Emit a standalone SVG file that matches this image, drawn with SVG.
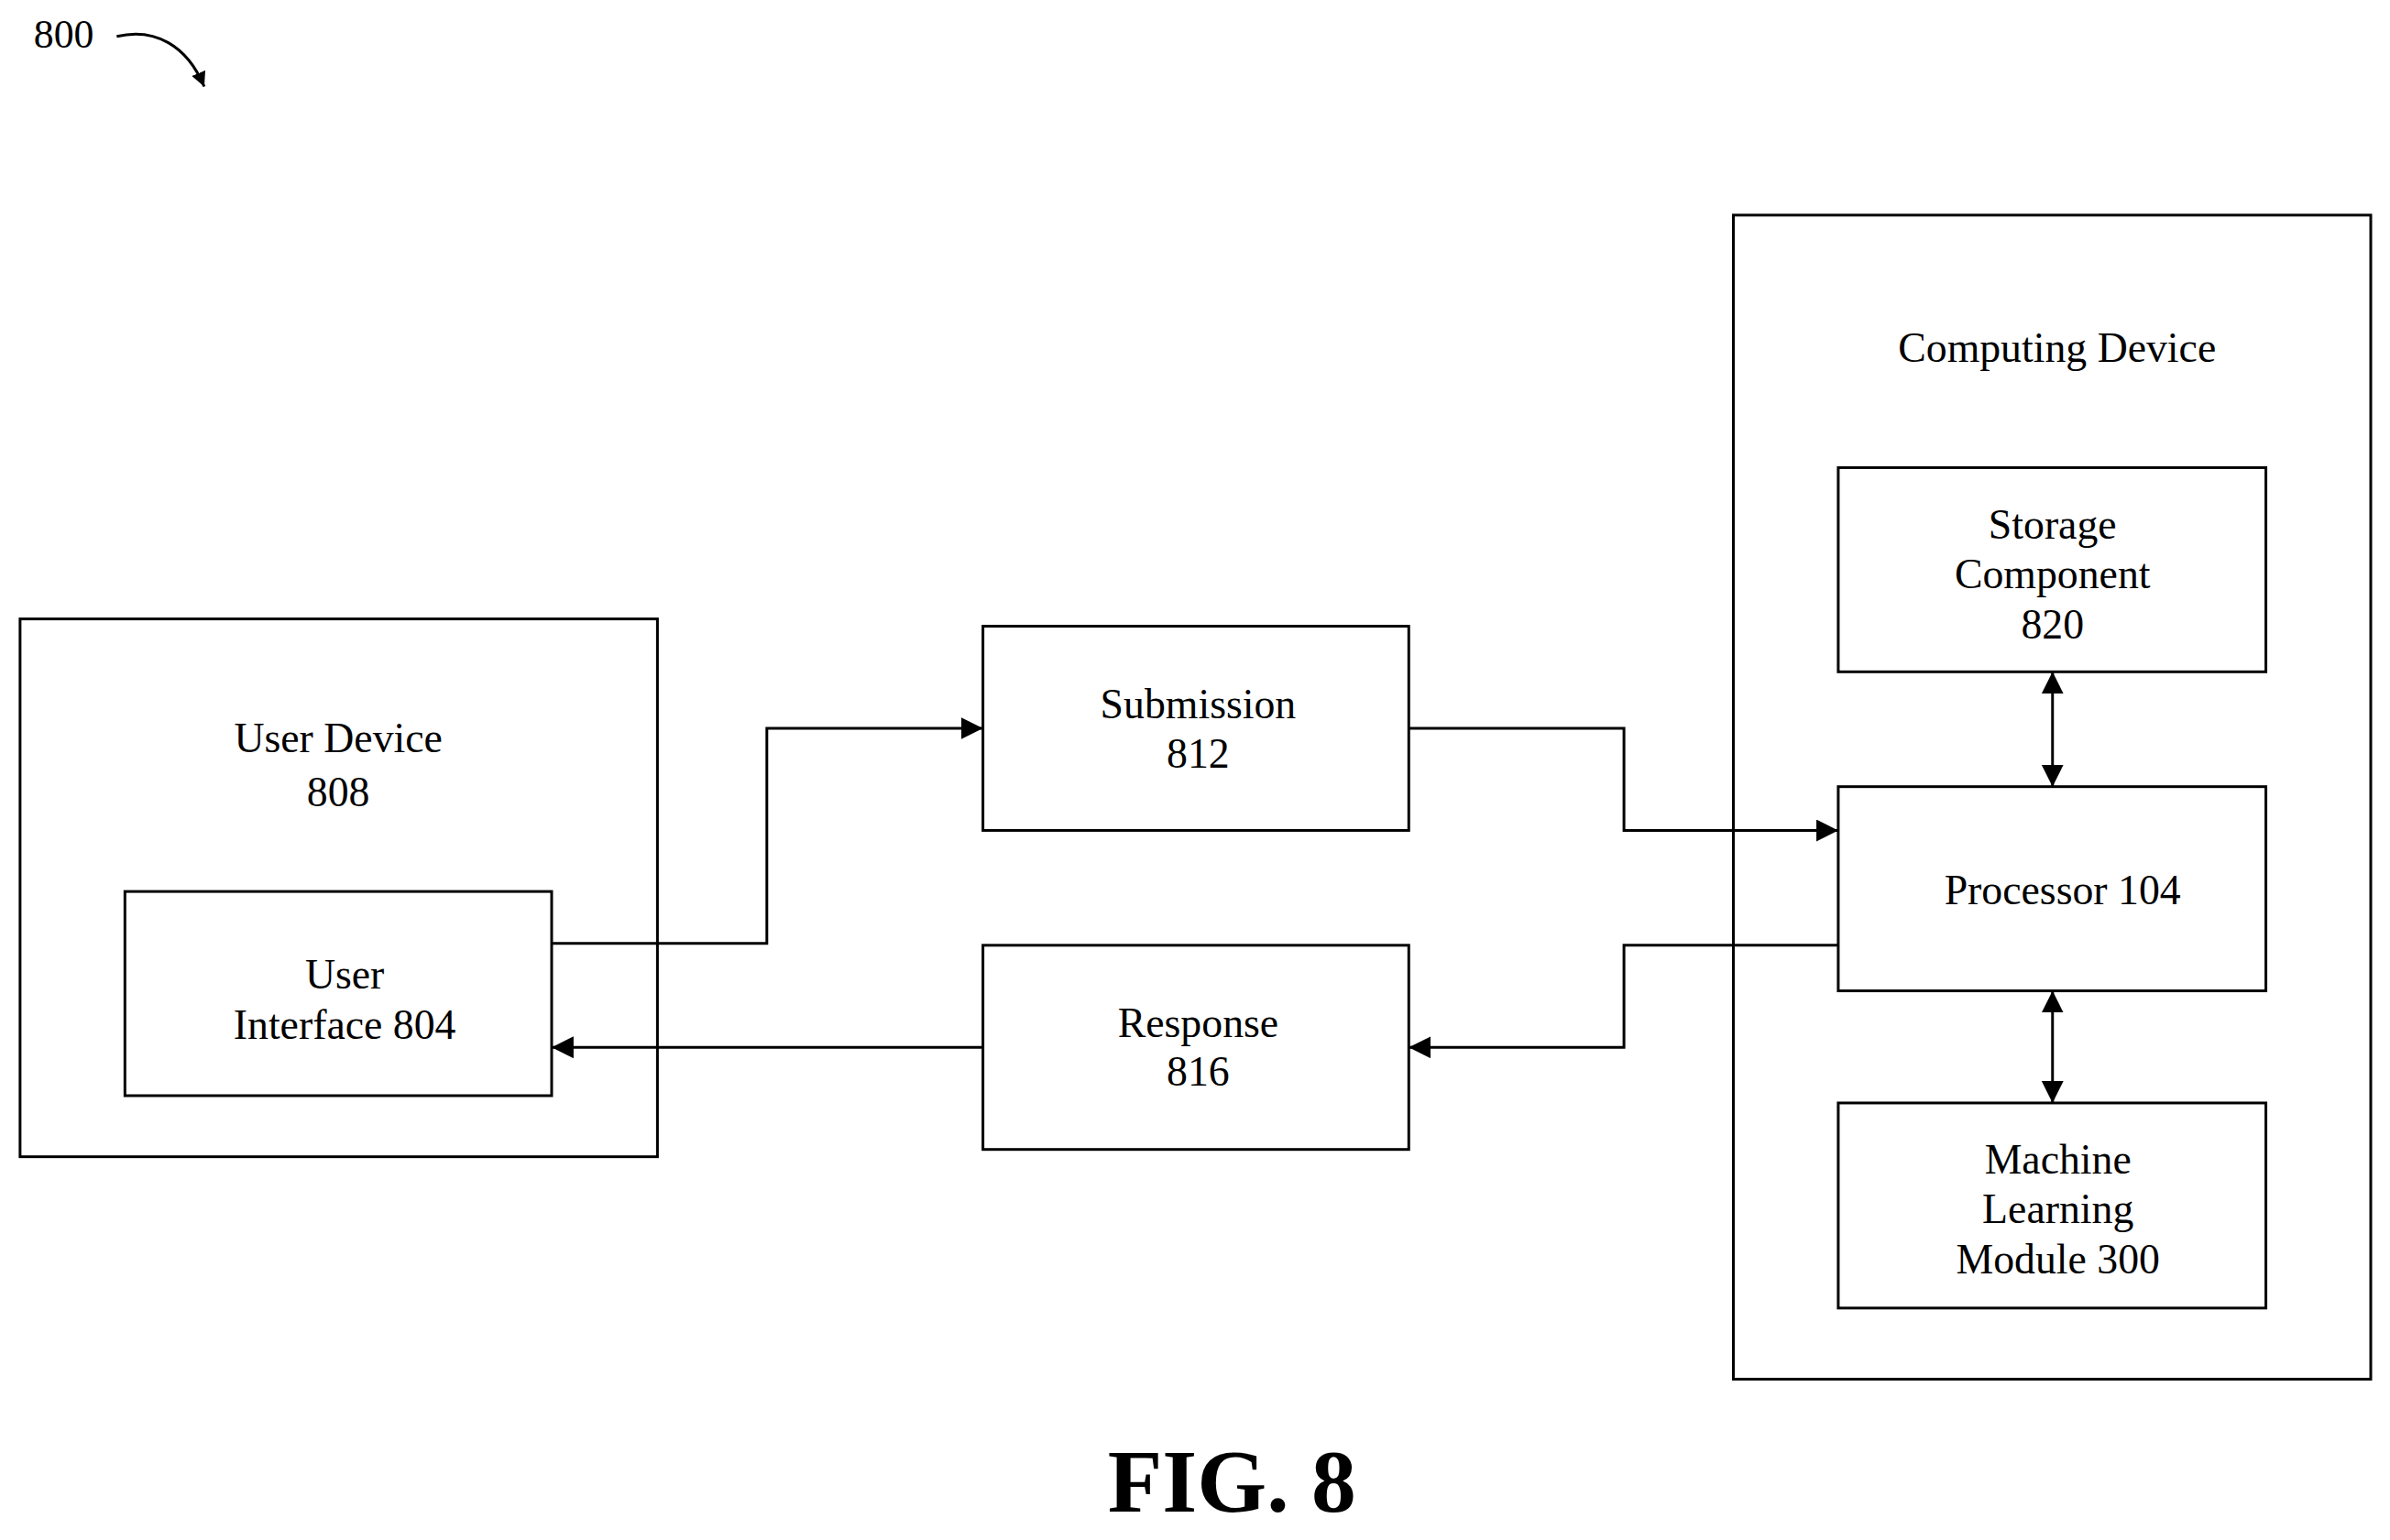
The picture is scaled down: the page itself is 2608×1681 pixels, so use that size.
<svg xmlns="http://www.w3.org/2000/svg" width="2608" height="1681" viewBox="0 0 2608 1681">
<style>
.b{fill:none;stroke:#000;stroke-width:3}
.t{font-family:"Liberation Serif",serif;font-size:46px;text-anchor:middle;fill:#000}
.c{fill:none;stroke:#000;stroke-width:3}
</style>
<defs>
<marker id="a" markerUnits="userSpaceOnUse" markerWidth="26" markerHeight="26" refX="24" refY="12" orient="auto-start-reverse"><path d="M0,0 L24,12 L0,24 Z" fill="#000"/></marker>
<marker id="s" markerUnits="userSpaceOnUse" markerWidth="20" markerHeight="20" refX="16" refY="8" orient="auto"><path d="M0,0 L16,8 L0,16 Z" fill="#000"/></marker>
</defs>
<rect width="2608" height="1681" fill="#fff"/>
<g transform="scale(0.995)">
<text x="70" y="52" class="t" style="font-size:44px">800</text>
<path d="M128,40 C170,30 205,50 224,95" class="c" stroke-width="2" marker-end="url(#s)"/>
<g id="user-device"><rect x="22" y="679" width="699" height="590" class="b"/><text class="t" x="371" y="825">User Device</text><text class="t" x="371" y="884">808</text></g>
<g id="user-interface"><rect x="137" y="978" width="468" height="224" class="b"/><text class="t" x="378" y="1084">User</text><text class="t" x="378" y="1140">Interface 804</text></g>
<g id="submission"><rect x="1078" y="687" width="467" height="224" class="b"/><text class="t" x="1314" y="788">Submission</text><text class="t" x="1314" y="842">812</text></g>
<g id="response"><rect x="1078" y="1037" width="467" height="224" class="b"/><text class="t" x="1314" y="1138">Response</text><text class="t" x="1314" y="1191">816</text></g>
<g id="computing-device"><rect x="1901" y="236" width="699" height="1277" class="b"/><text class="t" x="2256" y="397">Computing Device</text></g>
<g id="storage"><rect x="2016" y="513" width="469" height="224" class="b"/><text class="t" x="2251" y="591">Storage</text><text class="t" x="2251" y="645">Component</text><text class="t" x="2251" y="700">820</text></g>
<g id="processor"><rect x="2016" y="863" width="469" height="224" class="b"/><text class="t" x="2262" y="992">Processor 104</text></g>
<g id="ml"><rect x="2016" y="1210" width="469" height="225" class="b"/><text class="t" x="2257" y="1287">Machine</text><text class="t" x="2257" y="1342">Learning</text><text class="t" x="2257" y="1397">Module 300</text></g>
<g id="connectors">
<polyline class="c" points="605,1035 841,1035 841,799 1078,799" marker-end="url(#a)"/>
<polyline class="c" points="1545,799 1781,799 1781,911 2016,911" marker-end="url(#a)"/>
<polyline class="c" points="2016,1037 1781,1037 1781,1149 1545,1149" marker-end="url(#a)"/>
<line class="c" x1="1078" y1="1149" x2="605" y2="1149" marker-end="url(#a)"/>
<line class="c" x1="2251" y1="737" x2="2251" y2="863" marker-start="url(#a)" marker-end="url(#a)"/>
<line class="c" x1="2251" y1="1087" x2="2251" y2="1210" marker-start="url(#a)" marker-end="url(#a)"/>
</g>
<text x="1351" y="1658" style="font-family:'Liberation Serif',serif;font-size:98px;font-weight:bold;text-anchor:middle">FIG. 8</text>
</g>
</svg>
